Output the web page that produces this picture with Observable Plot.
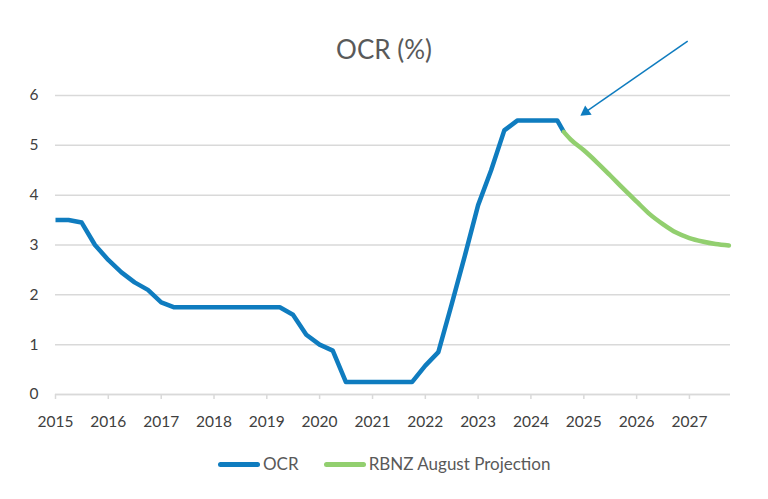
<!DOCTYPE html>
<html><head><meta charset="utf-8">
<script src="https://cdn.jsdelivr.net/npm/d3@7"></script>
<script src="https://cdn.jsdelivr.net/npm/@observablehq/plot@0.6"></script>
<style>
body{margin:0;background:#fff;font-family:Lato,"Open Sans",sans-serif;}
#wrap{position:relative;width:768px;height:499px;overflow:hidden;}
#chart{position:absolute;left:0;top:0;}
#title{position:absolute;left:0;width:768px;top:34px;text-align:center;font-size:26px;color:#595959;line-height:30px;}
#legend{position:absolute;left:218px;top:453px;display:flex;align-items:center;font-size:17px;color:#595959;line-height:22px;}
.sw{display:inline-block;width:42px;height:5px;border-radius:3px;margin-right:3px;}
.item{display:flex;align-items:center;margin-right:25px;}
</style></head><body>
<div id="wrap"><div id="chart"></div><div id="title">OCR (%)</div>
<div id="legend"></div></div>
<script>
// Data
const ocrDates = ["2015-01-01","2015-04-01","2015-07-01","2015-10-01","2016-01-01","2016-04-01","2016-07-01","2016-10-01",
  "2017-01-01","2017-04-01","2017-07-01","2017-10-01","2018-01-01","2018-04-01","2018-07-01","2018-10-01",
  "2019-01-01","2019-04-01","2019-07-01","2019-10-01","2020-01-01","2020-04-01","2020-07-01","2020-10-01",
  "2021-01-01","2021-04-01","2021-07-01","2021-10-01","2022-01-01","2022-04-01","2022-07-01","2022-10-01",
  "2023-01-01","2023-04-01","2023-07-01","2023-10-01","2024-01-01","2024-04-01","2024-07-01","2024-08-15"];
const ocrValues = [3.5,3.5,3.45,3.0,2.7,2.45,2.25,2.1,
  1.85,1.75,1.75,1.75,1.75,1.75,1.75,1.75,
  1.75,1.75,1.6,1.2,1.0,0.88,0.25,0.25,
  0.25,0.25,0.25,0.25,0.58,0.85,1.8,2.78,
  3.8,4.5,5.3,5.5,5.5,5.5,5.5,5.27];
const projDates = ["2024-08-15","2024-10-01","2025-01-01","2025-04-01","2025-07-01","2025-10-01","2026-01-01",
  "2026-04-01","2026-07-01","2026-10-01","2027-01-01","2027-04-01","2027-07-01","2027-10-01"];
const projValues = [5.27,5.12,4.9,4.66,4.4,4.13,3.87,3.62,3.42,3.25,3.14,3.07,3.02,2.99];
const xTickYears = [2015,2016,2017,2018,2019,2020,2021,2022,2023,2024,2025,2026,2027];
const yTicks = [0,1,2,3,4,5,6];
const seriesNames = ["OCR","RBNZ August Projection"];
const seriesColors = ["#0f7cbf","#92cf6f"];
// annotation arrow (data coordinates)
const arrowStart = {date:"2026-12-20", value:7.09};
const arrowEnd = {date:"2025-01-14", value:5.67};

const ocr = ocrDates.map((d,i)=>({date:new Date(d), value:ocrValues[i]}));
const proj = projDates.map((d,i)=>({date:new Date(d), value:projValues[i]}));
const xTicks = xTickYears.map(y=>new Date(Date.UTC(y,0,1)));
const arrowData = [{x1:new Date(arrowStart.date), y1:arrowStart.value, x2:new Date(arrowEnd.date), y2:arrowEnd.value}];

const chart = Plot.plot({
  width:768, height:430,
  marginTop:95, marginBottom:36, marginLeft:55, marginRight:38,
  style:{fontFamily:"Lato, 'Open Sans', sans-serif", fontSize:"15.5px", color:"#404040", background:"transparent", overflow:"visible"},
  x:{type:"utc", domain:[new Date("2015-01-01"), new Date("2027-10-12")]},
  y:{domain:[0,6]},
  marks:[
    Plot.gridY(yTicks,{stroke:"#d9d9d9", strokeOpacity:1, strokeWidth:1.5}),
    Plot.axisY(yTicks,{tickSize:0, tickPadding:17, tickFormat:"d", label:null, fill:"#404040"}),
    Plot.axisX(xTicks,{tickSize:5, tickPadding:16, tickFormat:"%Y", stroke:"#d9d9d9", strokeWidth:1.5, strokeOpacity:1, fill:"#404040", label:null}),
    Plot.ruleY([0],{stroke:"#d9d9d9", strokeWidth:1.5}),
    Plot.line(ocr,{x:"date", y:"value", stroke:seriesColors[0], strokeWidth:4.5, strokeLinejoin:"round", strokeLinecap:"butt"}),
    Plot.line(proj,{x:"date", y:"value", stroke:seriesColors[1], strokeWidth:4.5, curve:"monotone-x", strokeLinecap:"round"}),
    Plot.link(arrowData,{x1:"x1", y1:"y1", x2:"x2", y2:"y2", stroke:seriesColors[0], strokeWidth:1.5}),
    Plot.dot(arrowData,{x:"x2", y:"y2", symbol:"triangle", r:4.2, fill:seriesColors[0], stroke:"none", rotate:235})
  ]
});
document.getElementById("chart").appendChild(chart);

const legend = document.getElementById("legend");
seriesNames.forEach((n,i)=>{
  const it = document.createElement("div"); it.className="item";
  const sw = document.createElement("span"); sw.className="sw"; sw.style.background=seriesColors[i];
  const tx = document.createElement("span"); tx.textContent=n;
  it.appendChild(sw); it.appendChild(tx); legend.appendChild(it);
});
</script>
</body></html>
